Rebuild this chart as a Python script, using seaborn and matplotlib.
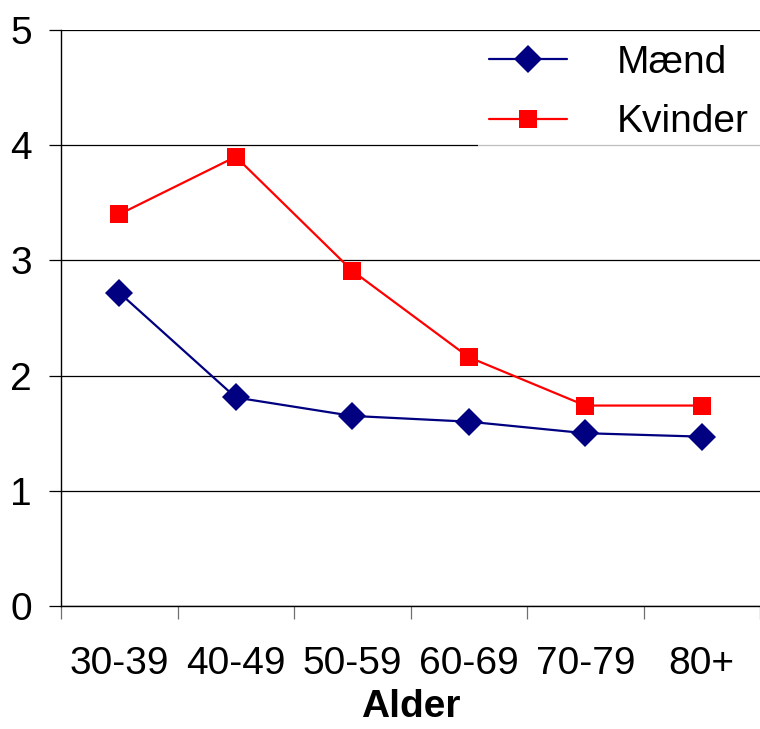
import matplotlib
matplotlib.use("Agg")
import matplotlib.pyplot as plt
from matplotlib.ticker import FixedLocator, NullFormatter
import seaborn as sns
import pandas as pd
import numpy as np

# Age groups and mean values per sex
age_groups = ["30-39", "40-49", "50-59", "60-69", "70-79", "80+"]
maend = [2.72, 1.81, 1.65, 1.60, 1.50, 1.47]
kvinder = [3.40, 3.90, 2.91, 2.16, 1.74, 1.74]
series_names = ["Mænd", "Kvinder"]
y_ticks = [0, 1, 2, 3, 4, 5]

sns.set_style("white")
plt.rcParams["font.family"] = ["Liberation Sans", "DejaVu Sans"]
plt.rcParams["text.color"] = "black"
plt.rcParams["xtick.color"] = "black"
plt.rcParams["ytick.color"] = "black"
plt.rcParams["axes.labelcolor"] = "black"

df = pd.DataFrame({
    "pos": list(range(len(age_groups))) * 2,
    "value": maend + kvinder,
    "series": [series_names[0]] * len(maend) + [series_names[1]] * len(kvinder),
})

fig = plt.figure(figsize=(7.6, 7.29), dpi=100)
ax = fig.add_axes([61 / 760, 1 - 606 / 729, 1 - 61 / 760, (606 - 30) / 729])

sns.lineplot(
    data=df, x="pos", y="value", hue="series", style="series",
    hue_order=series_names, style_order=series_names,
    palette={"Mænd": "#000080", "Kvinder": "#FF0000"},
    markers={"Mænd": "D", "Kvinder": "s"}, dashes=False,
    markersize=13, linewidth=1.6, markeredgewidth=0,
    ax=ax, legend=False, zorder=3,
)
ax.get_lines()[0].set_markersize(14)
ax.get_lines()[1].set_markersize(13)

ax.set_xlim(-0.5, len(age_groups) - 0.5)
ax.set_ylim(0, 5)

# y axis: gridlines and outward ticks
ax.set_yticks(y_ticks)
ax.set_yticklabels([str(t) for t in y_ticks])
ax.yaxis.grid(True, color="black", linewidth=0.9)
ax.tick_params(axis="y", which="major", left=True, direction="out",
               length=9, width=0.9, color="black", labelsize=28, pad=12,
               labelcolor="black")

# x axis: labels at category centres, tick marks between categories
ax.xaxis.set_major_locator(FixedLocator(np.arange(len(age_groups))))
ax.set_xticklabels(age_groups)
ax.xaxis.set_minor_locator(FixedLocator(np.arange(-0.5, len(age_groups), 1.0)))
ax.xaxis.set_minor_formatter(NullFormatter())
ax.tick_params(axis="x", which="major", length=0, labelsize=28, pad=29,
               labelcolor="black")
ax.tick_params(axis="x", which="minor", bottom=True, direction="out",
               length=9, width=0.9, color="#707070")

for side in ["top", "right"]:
    ax.spines[side].set_visible(False)
for side in ["left", "bottom"]:
    ax.spines[side].set_color("black")
    ax.spines[side].set_linewidth(1.0)

ax.set_ylabel("")
ax.set_xlabel("Alder", fontsize=28, fontweight="bold", labelpad=5,
              color="black")

handles = ax.get_lines()[:2]
leg = ax.legend(
    handles, series_names, loc="upper right",
    bbox_to_anchor=(1.0, 1.0 - 4 / 576),
    fontsize=28, frameon=True, framealpha=0.75, facecolor="white",
    edgecolor="none", fancybox=False, handlelength=2.0, handletextpad=1.3,
    labelspacing=0.6, borderpad=0.28, borderaxespad=0.0,
)
leg.set_zorder(2)
for t in leg.get_texts():
    t.set_color("black")

fig.savefig("out.png", dpi=100)
